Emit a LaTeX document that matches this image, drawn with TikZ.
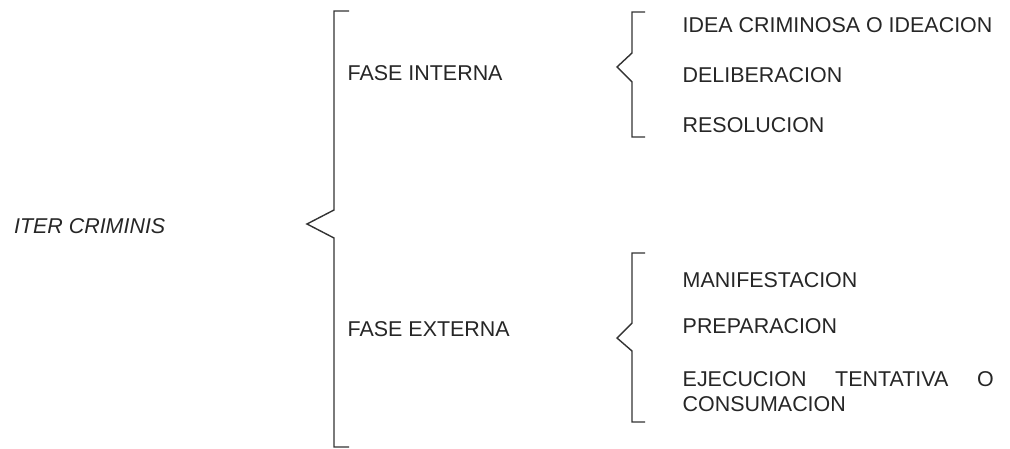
\documentclass[tikz,border=0pt]{standalone}
\usepackage{fontspec}
\setmainfont{Liberation Sans}

\begin{document}
\begin{tikzpicture}[x=0.02cm, y=-0.02cm, thick,
    etapa/.style={anchor=west, inner sep=0pt, text=black!85, font=\fontsize{12.2}{14.2}\selectfont},
    llave/.style={draw=black!80, line join=miter}]
    \useasboundingbox (0,0) rectangle (1010,449);

    % concepto
    \node[etapa, anchor=east, font=\fontsize{12.2}{14.2}\selectfont\itshape] (iter) at (166,226) {ITER CRIMINIS};

    % fases
    \node[etapa] (interna) at (347,73) {FASE INTERNA};
    \node[etapa] (externa) at (347,329) {FASE EXTERNA};

    % fase interna
    \node[etapa] (idea) at (682,25) {IDEA CRIMINOSA O IDEACION};
    \node[etapa] (delib) at (682,75) {DELIBERACION};
    \node[etapa] (resol) at (682,125) {RESOLUCION};

    % fase externa
    \node[etapa] (manif) at (682,280) {MANIFESTACION};
    \node[etapa] (prep) at (682,326) {PREPARACION};
    \node[etapa, anchor=north west, text width=311*0.02cm, align=left] (ejec) at (682,371)
        {EJECUCION\hfill TENTATIVA\hfill O\\CONSUMACION};

    % llaves
    \draw[llave] (349,11) -- (334,11) -- (334,210) -- (307,224) -- (334,238) -- (334,447) -- (349,447);
    \draw[llave] (645,12) -- (632,12) -- (632,53) -- (617,67) -- (632,82) -- (632,137) -- (645,137);
    \draw[llave] (645,253) -- (632,253) -- (632,323) -- (617,338) -- (632,351) -- (632,422) -- (645,422);
\end{tikzpicture}
\end{document}
